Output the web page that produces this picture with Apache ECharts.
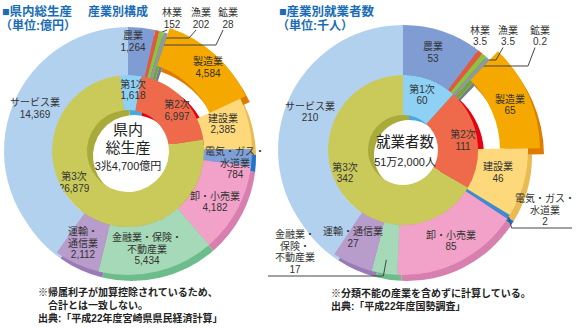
<!DOCTYPE html>
<html><head><meta charset="utf-8">
<script src="https://cdn.jsdelivr.net/npm/echarts@6/dist/echarts.min.js"></script>
<style>html,body{margin:0;padding:0;background:#fff}#c{width:578px;height:329px}</style>
</head><body><div id="c"></div>
<script>
// ===== DATA =====
const industries = ['農業','林業','漁業','鉱業','製造業','建設業','電気・ガス・水道業','卸・小売業','金融業・保険・不動産業','運輸・通信業','サービス業'];
const sectors = ['第1次','第2次','第3次'];
// 県内総生産 産業別構成 (単位:億円)
const gdpIndustry = [1264,152,202,28,4584,2385,784,4182,5434,2112,14369];
const gdpSector = [1618,6997,26879];
const gdpTotalLabel = ['県内','総生産','3兆4,700億円'];
// 産業別就業者数 (単位:千人)
const empIndustry = [53,3.5,3.5,0.2,65,46,2,85,17,27,210];
const empSector = [60,111,342];
const empTotalLabel = ['就業者数','51万2,000人'];

// ===== STYLES =====
const FONT = '"Liberation Sans","Noto Sans CJK JP",sans-serif';
const LH = 11.5;
const frontColors = ['#7f9dd3','#e9573a','#8bc53f','#8d99a3','#f5a800','#fdd97c','#7e9fd8','#f2a2c9','#a5d9b7','#b89ccb','#b2d1ef'];
const backColors  = ['#6b8ac3','#c94a2e','#6fa82e','#74808a','#de7c00','#eabb52','#1f75c8','#d77fae','#6dbd8c','#9a7bb5','#b2d1ef'];
const frontColorsR = frontColors.slice(); frontColorsR[6] = '#3d8ad6';
const sectorFront = ['#8ed1f4','#ee6a4a','#c9ca5a'];
const sectorBack  = ['#4aa8de','#e60012','#a8aa3a'];
const exploded = industries.map(n => n === '製造業');

const leftCfg = {
  center:[128,151], hole:41, ring:76, outer:124, exp:[90,130], innerStart:96, shift:[4,6], innerShift:[6,5], minAngle:2,
  front: frontColors,
  labelPos: [[133,41.5],[172,18.5],[201,18.5],[228,18.5],[208,67.5],[223,124],[235,163],[215,202],[147,249],[83,243],[35,108.5]],
  sectorPos: [[133,90],[177,110.5],[74,182.5]],
  breaks: {'電気・ガス・水道業':'電気・ガス・\n水道業','金融業・保険・不動産業':'金融業・保険・\n不動産業','運輸・通信業':'運輸・\n通信業'},
  leaders: {'林業':{hy:33},'漁業':{hy:38},'鉱業':{hy:45}},
  underLeaders: {},
  fmt: v => v.toLocaleString('en-US')
};
const rightCfg = {
  center:[403,150], hole:35, ring:75, outer:125, exp:[97,137], innerStart:90, shift:[4,6], innerShift:[6,5], minAngle:2,
  front: frontColorsR,
  labelPos: [[433,52.5],[480,36],[508,36],[540,36],[510,105],[498,172.5],[545,210],[451,241],[295,252],[353,237.5],[310,112]],
  sectorPos: [[422,95],[463,140.5],[345,173]],
  breaks: {'電気・ガス・水道業':'電気・ガス・\n水道業','金融業・保険・不動産業':'金融業・\n保険・\n不動産業'},
  leaders: {'林業':{hy:54},'漁業':{hy:60},'鉱業':{hy:66}},
  underLeaders: {'電気・ガス・水道業':{fr:1.0, dx:3, hy:228, hx:572},
                 '金融業・保険・不動産業':{fr:0.72, dx:-3, hy:276, hx:268}},
  fmt: v => String(v)
};

function ring(cfg, names, values, colors, visible, radius, shift, startAngle, minAngle, extra) {
  return Object.assign({
    type:'pie', silent:true, animation:false, clockwise:true,
    startAngle, minAngle, avoidLabelOverlap:false,
    center:[cfg.center[0]+shift[0], cfg.center[1]+shift[1]],
    radius, emphasis:{disabled:true},
    label:{show:false}, labelLine:{show:false},
    itemStyle:{borderWidth:0},
    data: values.map((v,i)=>({name:names[i], value:v,
      itemStyle:{color: visible[i] ? colors[i] : 'rgba(0,0,0,0)'}}))
  }, extra || {});
}

function leaderPoints(ld, r, q, nLines) {
  const bottom = q[1] + nLines*LH/2;
  const sx = r.x + r.width*(1 - (ld.hy - r.y)/r.height) - 1;
  return [[sx, ld.hy], [q[0]-12, ld.hy], [q[0]-5, bottom]];
}

function labelOpts(cfg, names, posArr, leaders) {
  return {
    label:{show:true, position:'inside', color:'#333', fontSize:10, lineHeight:LH, fontFamily:FONT,
      formatter: p => (cfg.breaks[p.name] || p.name) + '\n' + cfg.fmt(p.value)},
    labelLayout: p => {
      const q = posArr[p.dataIndex];
      const res = {x:q[0], y:q[1], align:'center', verticalAlign:'middle'};
      const ld = leaders && leaders[names[p.dataIndex]];
      if (ld) res.labelLinePoints = leaderPoints(ld, p.rect, q, String(p.text).split('\n').length);
      return res;
    }
  };
}

function buildChart(cfg, values, sectorValues) {
  const normal = exploded.map(e=>!e);
  const none = [0,0];
  const outerFront = ring(cfg, industries, values, cfg.front, normal, [cfg.ring, cfg.outer], none, 90, cfg.minAngle,
                          labelOpts(cfg, industries, cfg.labelPos, cfg.leaders));
  outerFront.z = 5;
  outerFront.data.forEach(d => {
    if (cfg.leaders[d.name]) {
      d.label = {position:'outside'};
      d.labelLine = {show:true, length:4, length2:6, lineStyle:{color:'#444', width:1}};
    }
  });
  const s = [
    ring(cfg, industries, values, backColors, normal, [cfg.ring, cfg.outer], cfg.shift, 90, cfg.minAngle),
    ring(cfg, industries, values, backColors, exploded, cfg.exp, cfg.shift, 90, cfg.minAngle),
    ring(cfg, sectors, sectorValues, sectorBack, [true,true,true], [cfg.hole, cfg.ring], cfg.innerShift, cfg.innerStart, 0),
    outerFront,
    ring(cfg, industries, values, cfg.front, exploded, cfg.exp, none, 90, cfg.minAngle),
    ring(cfg, sectors, sectorValues, sectorFront, [true,true,true], [cfg.hole, cfg.ring], none, cfg.innerStart, 0,
         labelOpts(cfg, sectors, cfg.sectorPos, null))
  ];
  s[4].z = 4; s[5].z = 4;
  return s;
}

function txt(x, y, text, size, opts) {
  opts = opts || {};
  return {type:'text', x, y, z:100, silent:true, style:{
    text, fill: opts.color || '#222',
    font: (opts.bold ? 'bold ' : '') + size + 'px ' + FONT,
    align: opts.align || 'left', textAlign: opts.align || 'left',
    verticalAlign:'middle', textVerticalAlign:'middle'}};
}

const TITLE = '#1a6db4';
const graphics = [
  txt(2, 11.5, '■県内総生産', 12.5, {bold:true, color:TITLE}),
  txt(88, 11.5, '産業別構成', 12, {bold:true, color:TITLE}),
  txt(0, 25.5, '（単位:億円）', 12, {bold:true, color:TITLE}),
  txt(279, 11.5, '■産業別就業者数', 12.5, {bold:true, color:TITLE}),
  txt(277, 25.5, '（単位:千人）', 12, {bold:true, color:TITLE}),
  txt(128, 129.5, gdpTotalLabel[0], 15, {align:'center'}),
  txt(128, 147.5, gdpTotalLabel[1], 15, {align:'center'}),
  txt(128, 165.5, gdpTotalLabel[2], 11, {align:'center'}),
  txt(405, 142, empTotalLabel[0], 14.5, {align:'center'}),
  txt(405, 162, empTotalLabel[1], 11, {align:'center'}),
  txt(38, 292, '※帰属利子が加算控除されているため、', 10, {bold:true}),
  txt(48, 305, '合計とは一致しない。', 10, {bold:true}),
  txt(38, 318, '出典:「平成22年度宮崎県県民経済計算」', 10, {bold:true}),
  txt(331, 293, '※分類不能の産業を含めずに計算している。', 10, {bold:true}),
  txt(331, 306, '出典:「平成22年度国勢調査」', 10, {bold:true})
];

const chart = echarts.init(document.getElementById('c'), null, {renderer:'svg', width:578, height:329});
const leftSeries = buildChart(leftCfg, gdpIndustry, gdpSector);
const rightSeries = buildChart(rightCfg, empIndustry, empSector);
chart.setOption({
  animation:false,
  backgroundColor:'#fff',
  series: leftSeries.concat(rightSeries)
});

// Leader lines running under labels, anchored on the sectors laid out by the pie series
function underLines(cfg, seriesIndex) {
  const out = [];
  let data = null;
  try { data = chart.getModel().getSeriesByIndex(seriesIndex).getData(); } catch (e) { return out; }
  Object.keys(cfg.underLeaders).forEach(name => {
    const ld = cfg.underLeaders[name];
    const idx = industries.indexOf(name);
    const lay = data.getItemLayout(idx);
    if (!lay) return;
    const mid = (lay.startAngle + lay.endAngle) / 2;
    const rr = lay.r0 + (lay.r - lay.r0) * ld.fr;
    const p0 = [lay.cx + rr*Math.cos(mid), lay.cy + rr*Math.sin(mid)];
    const knee = [p0[0] + ld.dx, ld.hy];
    out.push({type:'polyline', z:50, silent:true,
      shape:{points:[p0, knee, [ld.hx, ld.hy]]},
      style:{stroke:'#444', lineWidth:1, fill:null}});
  });
  return out;
}
const lines = underLines(rightCfg, leftSeries.length + 3);
chart.setOption({graphic: graphics.concat(lines)});
</script>
</body></html>
